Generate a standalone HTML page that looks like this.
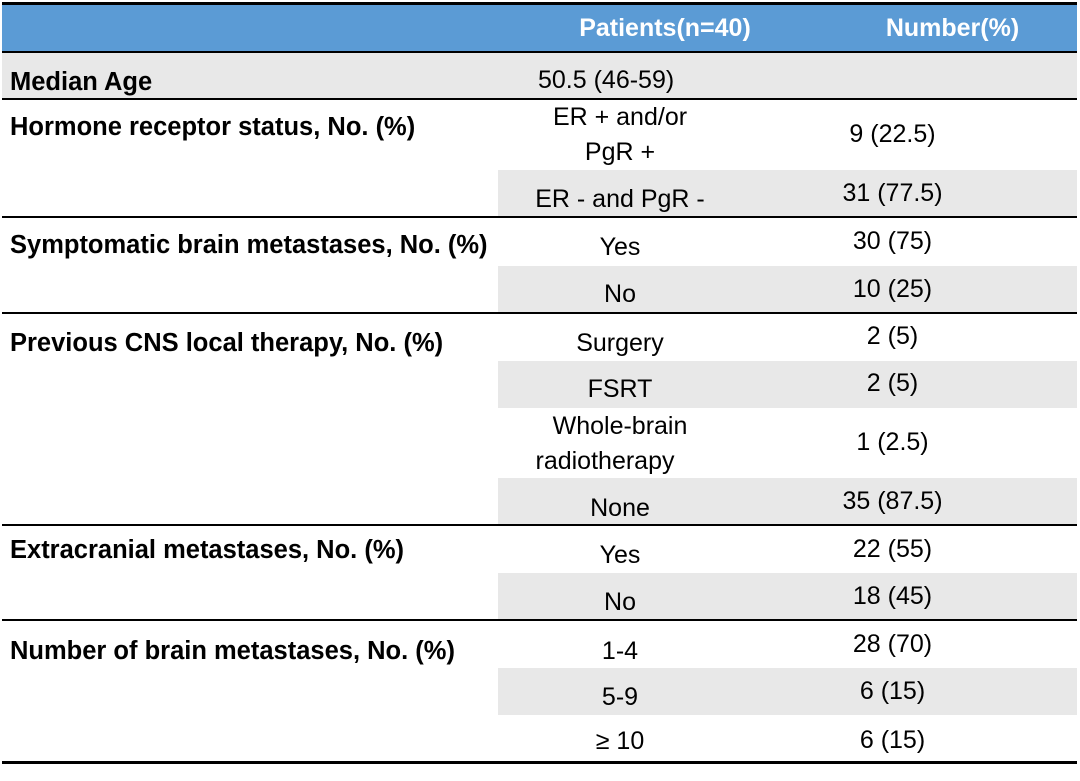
<!DOCTYPE html>
<html><head><meta charset="utf-8"><style>
body{margin:0;width:1080px;height:781px;background:#fff;position:relative;overflow:hidden;font-family:"Liberation Sans",sans-serif;color:#000}
.b{position:absolute;}
.ln{position:absolute;left:2px;width:1075px;background:#000;height:2px}
.t{position:absolute;font-size:25px;line-height:30px;white-space:nowrap}
.L{left:10px;font-weight:bold;font-size:25.5px;letter-spacing:0px}
.c2{left:470px;width:300px;text-align:center}
.c3{left:760px;width:265px;text-align:center}
.g{position:absolute;background:#e8e8e8;left:498px;width:579px}
</style></head><body>
<div class="b" style="left:2px;top:4px;width:1075px;height:48px;background:#5b9bd5"></div>
<div class="b" style="left:2px;top:52px;width:1075px;height:47px;background:#e8e8e8"></div>
<div class="g" style="top:170px;height:47px"></div>
<div class="g" style="top:266px;height:47px"></div>
<div class="g" style="top:361px;height:47px"></div>
<div class="g" style="top:478px;height:47px"></div>
<div class="g" style="top:573px;height:47px"></div>
<div class="g" style="top:668px;height:47px"></div>
<div class="ln" style="top:2px;height:3px"></div>
<div class="ln" style="top:51px"></div>
<div class="ln" style="top:98px"></div>
<div class="ln" style="top:216px"></div>
<div class="ln" style="top:312px"></div>
<div class="ln" style="top:524px"></div>
<div class="ln" style="top:619px"></div>
<div class="ln" style="top:761px;height:3px"></div>

<div class="t" style="left:515px;width:300px;text-align:center;top:13px;color:#fff;font-weight:bold;font-size:25px">Patients(n=40)</div>
<div class="t" style="left:820px;width:265px;text-align:center;top:13px;color:#fff;font-weight:bold;font-size:25px">Number(%)</div>

<div class="t L" style="top:67px">Median Age</div>
<div class="t" style="left:538px;top:65px">50.5 (46-59)</div>

<div class="t L" style="top:112px">Hormone receptor status, No. (%)</div>
<div class="t c2" style="top:102px">ER + and/or</div>
<div class="t c2" style="top:137px">PgR +</div>
<div class="t c3" style="top:119px">9 (22.5)</div>
<div class="t c2" style="top:184px">ER - and PgR -</div>
<div class="t c3" style="top:178px">31 (77.5)</div>

<div class="t L" style="top:230px">Symptomatic brain metastases, No. (%)</div>
<div class="t c2" style="top:232px">Yes</div>
<div class="t c3" style="top:226px">30 (75)</div>
<div class="t c2" style="top:279px">No</div>
<div class="t c3" style="top:274px">10 (25)</div>

<div class="t L" style="top:328px">Previous CNS local therapy, No. (%)</div>
<div class="t c2" style="top:328px">Surgery</div>
<div class="t c3" style="top:321px">2 (5)</div>
<div class="t c2" style="top:374px">FSRT</div>
<div class="t c3" style="top:368px">2 (5)</div>
<div class="t c2" style="top:411px">Whole-brain</div>
<div class="t c2" style="top:446px;left:455px">radiotherapy</div>
<div class="t c3" style="top:427px">1 (2.5)</div>
<div class="t c2" style="top:493px">None</div>
<div class="t c3" style="top:486px">35 (87.5)</div>

<div class="t L" style="top:535px">Extracranial metastases, No. (%)</div>
<div class="t c2" style="top:540px">Yes</div>
<div class="t c3" style="top:534px">22 (55)</div>
<div class="t c2" style="top:587px">No</div>
<div class="t c3" style="top:581px">18 (45)</div>

<div class="t L" style="top:636px">Number of brain metastases, No. (%)</div>
<div class="t c2" style="top:636px">1-4</div>
<div class="t c3" style="top:629px">28 (70)</div>
<div class="t c2" style="top:682px">5-9</div>
<div class="t c3" style="top:676px">6 (15)</div>
<div class="t c2" style="top:726px">≥ 10</div>
<div class="t c3" style="top:725px">6 (15)</div>
</body></html>
